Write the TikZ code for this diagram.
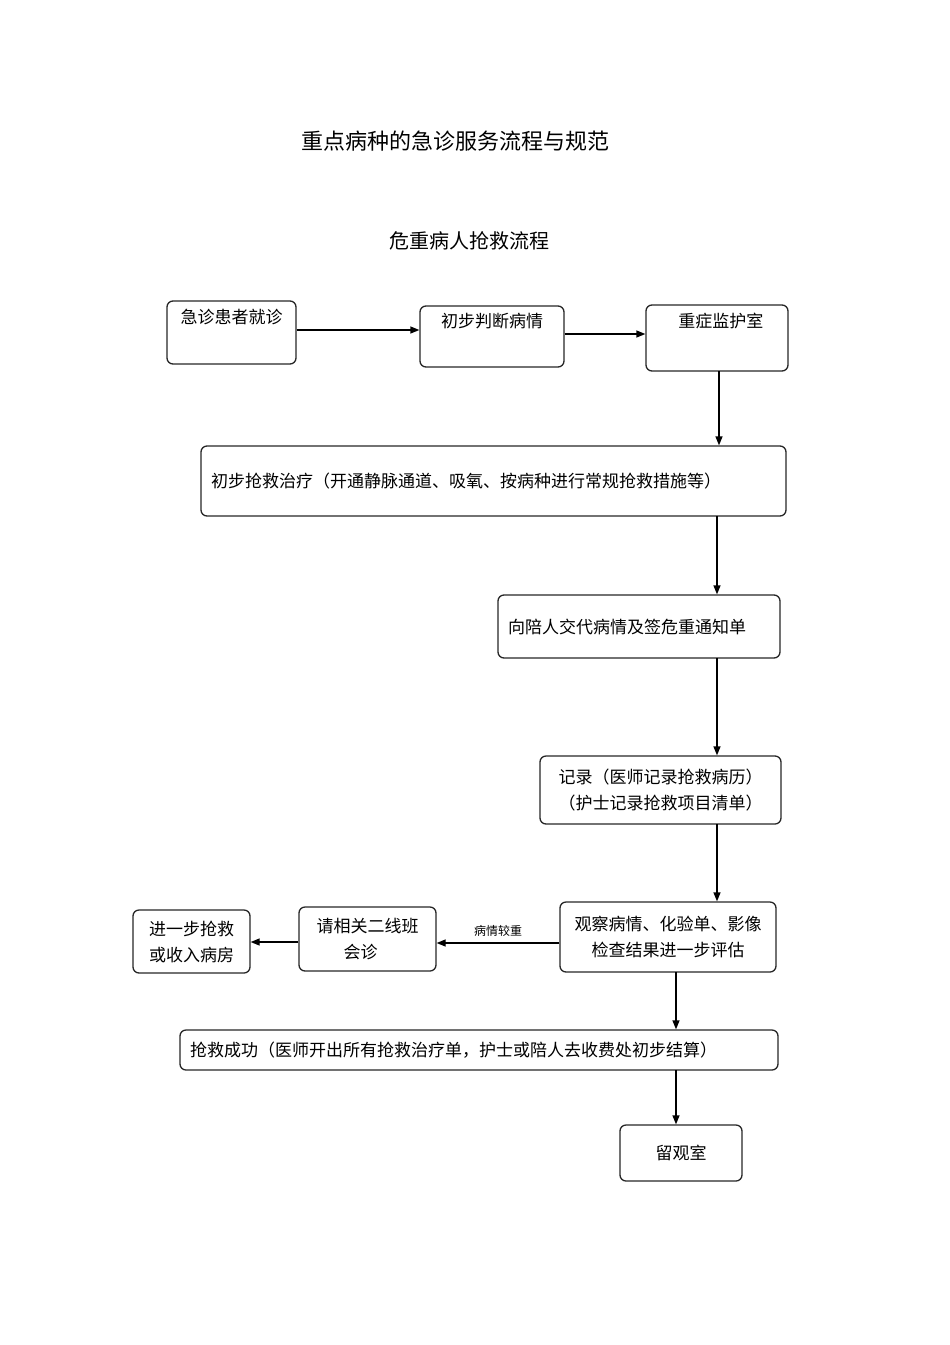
\documentclass[tikz,border=0pt]{standalone}
\usepackage{fontspec}
\newfontfamily\cjk{Noto Sans CJK SC}
\usetikzlibrary{arrows.meta}
\begin{document}
\begin{tikzpicture}[x=1pt,y=-1pt,
  box/.style={draw=black!85,line width=1.3pt,rounded corners=6pt,font=\cjk\fontsize{17}{26}\selectfont,inner sep=0pt,align=center},
  lbox/.style={box,align=left,inner xsep=10pt},
  arr/.style={line width=1.3pt,-{Triangle[length=9pt,width=7pt]}}]
\useasboundingbox (0,0) rectangle (950,1345);
\node[font=\cjk\fontsize{22}{26}\selectfont] (t1) at (455,141) {重点病种的急诊服务流程与规范};
\node[font=\cjk\fontsize{20}{26}\selectfont] (t2) at (469,241) {危重病人抢救流程};
\node[box,minimum width=129pt,minimum height=63pt] (b1) at (231.5,332.5) {急诊患者就诊\\[6pt]};
\node[box,minimum width=144pt,minimum height=61pt] (b2) at (492,336.5) {初步判断病情\\[6pt]};
\node[box,minimum width=142pt,minimum height=66pt] (b3) at (717,338) {\ \ 重症监护室\\[10pt]};
\node[lbox,minimum width=585pt,minimum height=70pt,text width=565pt] (b4) at (493.5,481) {初步抢救治疗（开通静脉通道、吸氧、按病种进行常规抢救措施等）\\[4pt]};
\node[lbox,minimum width=282pt,minimum height=63pt,text width=262pt] (b5) at (639,626.5) {向陪人交代病情及签危重通知单\\[2pt]};
\node[box,minimum width=241pt,minimum height=68pt] (b6) at (660.5,790) {记录（医师记录抢救病历）\\（护士记录抢救项目清单）};
\node[box,minimum width=216pt,minimum height=70pt] (b7) at (668,937) {观察病情、化验单、影像\\检查结果进一步评估};
\node[box,minimum width=137pt,minimum height=64pt,align=left] (b8) at (367.5,939) {请相关二线班\\\hspace{1.6em}会诊};
\node[box,minimum width=117pt,minimum height=63pt] (b9) at (191.5,941.5) {进一步抢救\\或收入病房};
\node[lbox,minimum width=598pt,minimum height=40pt,text width=578pt] (b10) at (479,1050) {抢救成功（医师开出所有抢救治疗单，护士或陪人去收费处初步结算）\\[4pt]};
\node[box,minimum width=122pt,minimum height=56pt] (b11) at (681,1153) {留观室};
\draw[arr] (b1.east|-0,330) -- (b2.west|-0,330);
\draw[arr] (b2.east|-0,334) -- (b3.west|-0,334);
\draw[arr] (719,371) -- (b4.north-|719,0);
\draw[arr] (717,516) -- (b5.north-|717,0);
\draw[arr] (717,658) -- (b6.north-|717,0);
\draw[arr] (717,824) -- (b7.north-|717,0);
\draw[arr] (b7.west|-0,943) -- node[above=3pt,font=\cjk\fontsize{12}{14}\selectfont]{病情较重} (b8.east|-0,943);
\draw[arr] (b8.west|-0,942) -- (b9.east|-0,942);
\draw[arr] (676,972) -- (b10.north-|676,0);
\draw[arr] (676,1070) -- (b11.north-|676,0);
\end{tikzpicture}
\end{document}
